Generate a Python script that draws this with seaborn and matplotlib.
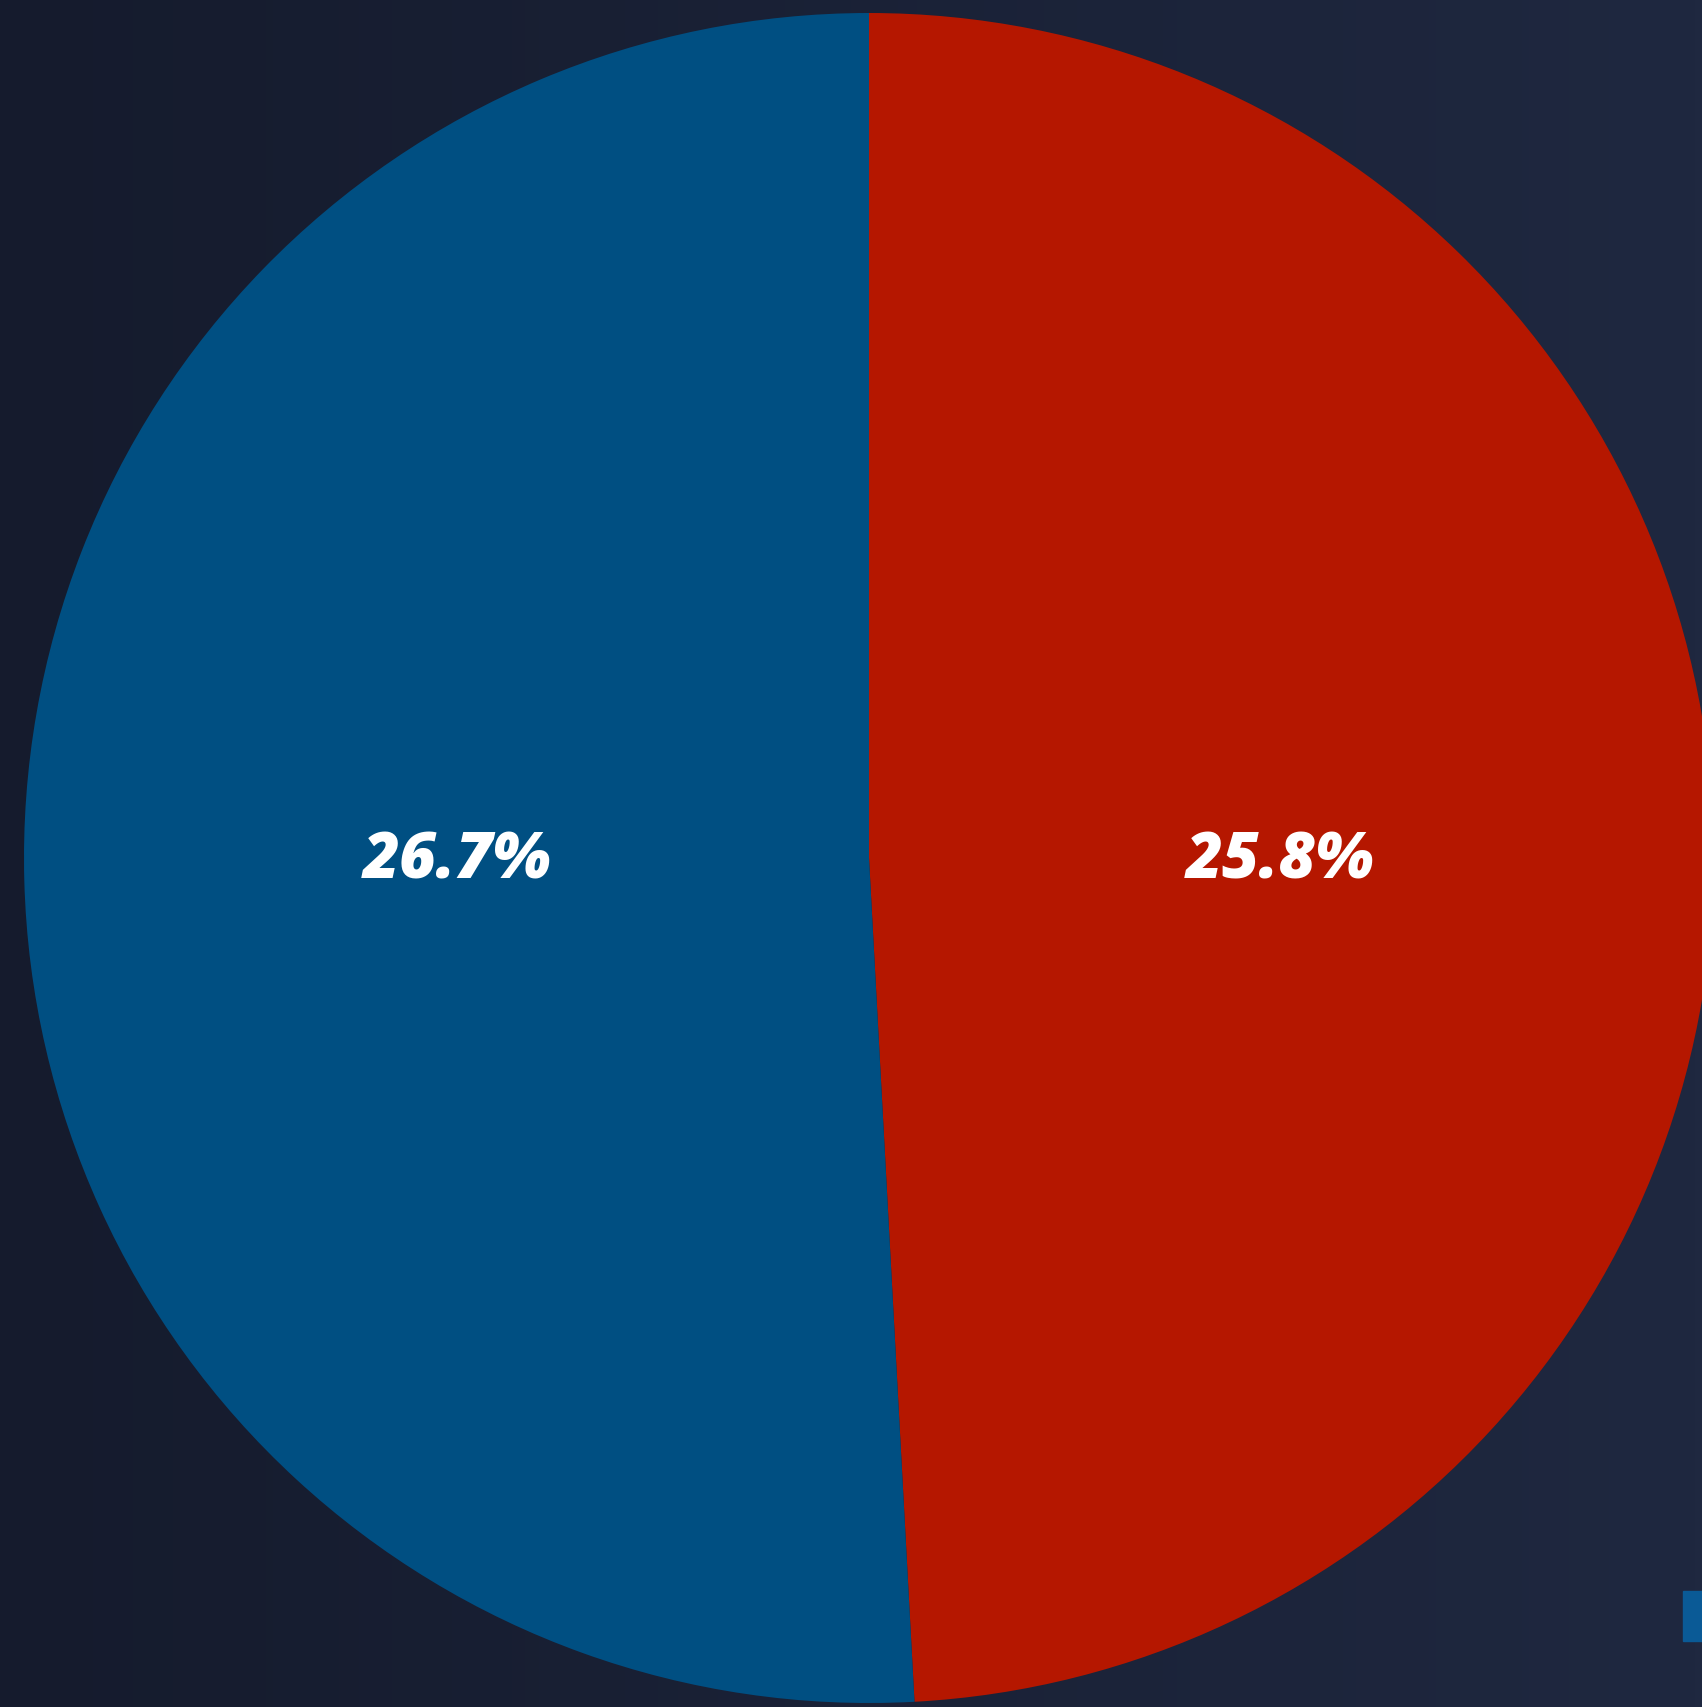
import matplotlib
matplotlib.use("Agg")
import matplotlib.pyplot as plt
import seaborn as sns
import numpy as np
from matplotlib.patches import Rectangle
from matplotlib.colors import LinearSegmentedColormap

# Data
parties = ["Republican", "Democrat"]
shares = [25.8, 26.7]
labels = ["25.8%", "26.7%"]
colors = ["#b51700", "#004f82"]

sns.set_theme(style="dark")
plt.rcParams['font.family'] = ['Open Sans', 'DejaVu Sans']

fig = plt.figure(figsize=(17.02, 17.07), dpi=100)
fig.patch.set_facecolor("#1a2238")
ax = fig.add_axes([0, 0, 1, 1])
ax.set_facecolor("#1a2238")

xl = (-869 / 845, (1702 - 869) / 845)
yl = (-(1707 - 858) / 845, 858 / 845)

# subtle background gradient
grad = np.linspace(0, 1, 256).reshape(1, -1)
bg_cmap = LinearSegmentedColormap.from_list("bg", ["#151b2d", "#1f2840"])
ax.imshow(grad, extent=[xl[0], xl[1], yl[0], yl[1]], cmap=bg_cmap, aspect="auto", zorder=0)

wedges, _ = ax.pie(shares, colors=colors, startangle=90, counterclock=False,
                   radius=1.0, wedgeprops=dict(linewidth=0, antialiased=True))
for w in wedges:
    w.set_zorder(2)

# labels at wedge mid-angles
for w, lab in zip(wedges, labels):
    ang = np.deg2rad((w.theta1 + w.theta2) / 2)
    r = 0.487
    ax.text(r * np.cos(ang), -0.004, lab, ha="center", va="center",
            color="white", fontsize=46, fontweight="heavy", fontstyle="italic", zorder=3)

ax.set_xlim(*xl)
ax.set_ylim(*yl)
ax.set_aspect("auto")
ax.axis("off")

# partially visible legend marker at lower right
fig.patches.append(Rectangle((1683 / 1702, 1 - 1641 / 1707), 30 / 1702, 50 / 1707,
                             transform=fig.transFigure, color="#0a5a96", zorder=5))

fig.savefig("out.png", dpi=100, facecolor=fig.get_facecolor())
